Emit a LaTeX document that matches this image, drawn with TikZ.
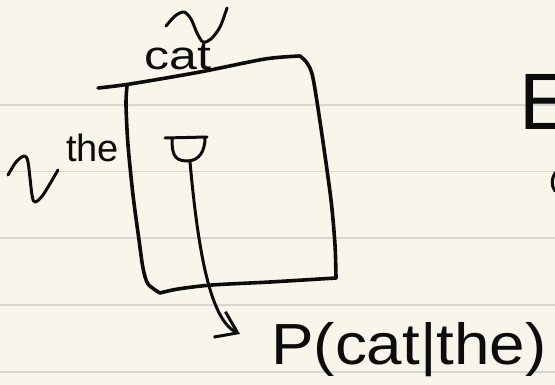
\documentclass[tikz,border=0pt]{standalone}
\usepackage{fontspec}
\setmainfont{Liberation Sans}
\usetikzlibrary{arrows.meta}
\definecolor{paper}{RGB}{248,246,234}
\definecolor{ruling}{RGB}{214,214,212}
\definecolor{ink}{RGB}{12,12,12}
\begin{document}
\begin{tikzpicture}[x=1pt,y=-1pt,
  pen/.style={draw=ink,line width=3pt,line cap=round,line join=round},
  boxline/.style={pen,line width=3.6pt},
  hand/.style={anchor=base west,inner sep=0pt,text=ink}]
% page of ruled paper
\clip (0,0) rectangle (555,385);
\fill[paper] (0,0) rectangle (555,385);
\foreach \yy in {105,171.7,238.3,305,371.7}
  \draw[ruling,line width=1.6pt] (0,\yy) -- (555,\yy);

% the table (rows: previous word, columns: next word)
\draw[boxline] plot[smooth] coordinates {(98,88) (130,84) (200,72) (265,59) (300,56)};
\draw[boxline] plot[smooth] coordinates {(300,56) (307,63) (313,78) (322,135) (331,200) (335,245) (336,278)};
\draw[boxline] plot[smooth] coordinates {(336,278) (270,282) (212,285) (178,289) (160,293)};
\draw[boxline] plot[smooth] coordinates {(127,86) (126,105) (128,145) (133,195) (139,240) (143,268) (148,284) (160,293)};

% column label with its squiggle
\node[hand,font=\fontsize{40}{40}\selectfont,xscale=1.25] (cat) at (144,70) {cat};
\draw[pen] plot[smooth] coordinates {(166,26) (175,16) (184,12) (191,19) (197,33) (203,42) (211,39) (220,27) (227,8)};

% row label with its squiggle
\node[hand,font=\fontsize{38}{38}\selectfont] (the) at (66,162) {the};
\draw[pen] plot[smooth] coordinates {(8,175) (16,162) (24,156) (28,162) (32,195) (35,202) (43,195) (58,170)};

% the cell picked out by both labels
\draw[pen] (165,138) -- (207,137);
\draw[pen] (172,138) .. controls (172,152) and (173,161) .. (187,161)
                     .. controls (200,161) and (205,150) .. (205,138);
\coordinate (cup) at (190,162);

% read-out of the cell
\node[hand,font=\fontsize{58}{58}\selectfont,xscale=1.1] (pc) at (271,364) {P(cat|the)};
\coordinate (tip) at (240,334);
\draw[pen,-{Straight Barb[length=20pt,width=28pt]}]
  (cup) .. controls (198,250) and (210,320) .. (tip);

% heading at the right margin
\node[hand,font=\fontsize{80}{80}\selectfont] (E) at (519,130) {E};
\draw[pen] (557,171) .. controls (551,177) and (551,186) .. (555,191);
\end{tikzpicture}
\end{document}
